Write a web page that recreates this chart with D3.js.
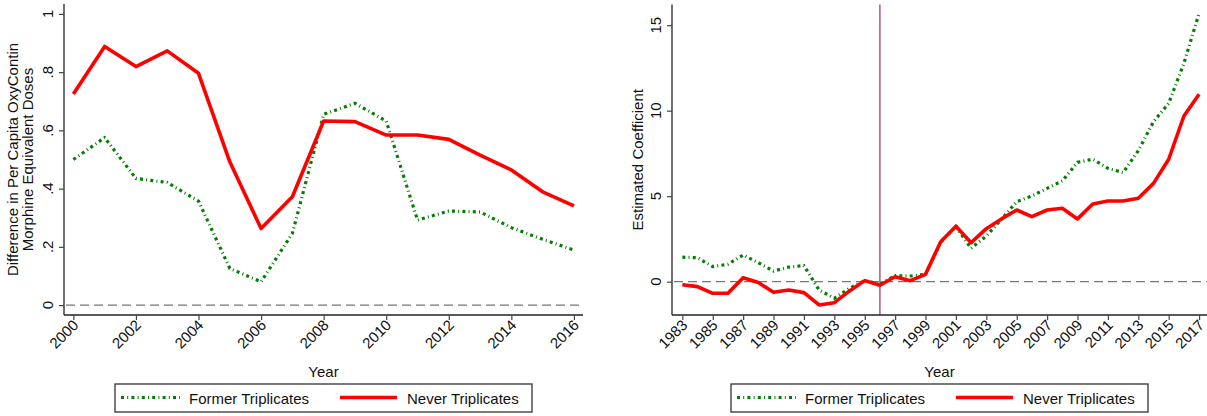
<!DOCTYPE html>
<html>
<head>
<meta charset="utf-8">
<script src="https://cdn.jsdelivr.net/npm/d3@7"></script>
<style>
  html, body { margin: 0; padding: 0; background: #fff; }
  svg { display: block; font-family: "Liberation Sans", Arial, Helvetica, sans-serif; }
</style>
</head>
<body>
<svg id="chart" width="1207" height="416"></svg>
<script>
// Panel A: per capita OxyContin difference, 2000-2016
const yearsA = [2000, 2001, 2002, 2003, 2004, 2005, 2006, 2007, 2008, 2009, 2010, 2011, 2012, 2013, 2014, 2015, 2016];
const formerA = [0.500, 0.575, 0.435, 0.421, 0.357, 0.126, 0.080, 0.246, 0.655, 0.693, 0.632, 0.292, 0.323, 0.320, 0.266, 0.226, 0.189];
const neverA  = [0.725, 0.888, 0.819, 0.873, 0.796, 0.492, 0.263, 0.372, 0.632, 0.630, 0.584, 0.584, 0.569, 0.515, 0.464, 0.389, 0.341];
const tickYearsA = [2000, 2002, 2004, 2006, 2008, 2010, 2012, 2014, 2016];
const tickValsA = [0, 0.2, 0.4, 0.6, 0.8, 1];
const tickLabelsA = ["0", ".2", ".4", ".6", ".8", "1"];

// Panel B: estimated coefficients, 1983-2017
const yearsB = [1983, 1984, 1985, 1986, 1987, 1988, 1989, 1990, 1991, 1992, 1993, 1994, 1995, 1996, 1997, 1998, 1999,
                2000, 2001, 2002, 2003, 2004, 2005, 2006, 2007, 2008, 2009, 2010, 2011, 2012, 2013, 2014, 2015, 2016, 2017];
const formerB = [1.43, 1.40, 0.88, 1.02, 1.56, 1.11, 0.62, 0.85, 0.94, -0.49, -0.97, -0.39, 0.06, -0.13, 0.35, 0.33, 0.43,
                 2.30, 3.22, 1.95, 2.67, 3.65, 4.68, 5.01, 5.46, 5.89, 6.98, 7.16, 6.63, 6.38, 7.66, 9.36, 10.43, 12.77, 15.70];
const neverB  = [-0.18, -0.29, -0.68, -0.68, 0.23, -0.05, -0.62, -0.49, -0.64, -1.36, -1.23, -0.54, 0.06, -0.21, 0.29, 0.06, 0.43,
                 2.34, 3.24, 2.28, 3.10, 3.67, 4.19, 3.80, 4.19, 4.29, 3.67, 4.54, 4.72, 4.72, 4.88, 5.75, 7.16, 9.69, 10.96];
const tickYearsB = [1983, 1985, 1987, 1989, 1991, 1993, 1995, 1997, 1999, 2001, 2003, 2005, 2007, 2009, 2011, 2013, 2015, 2017];
const tickValsB = [0, 5, 10, 15];
const tickLabelsB = ["0", "5", "10", "15"];
const eventYear = 1996;

const seriesNames = ["Former Triplicates", "Never Triplicates"];

const GREEN = "#008000";
const RED = "#ff0000";
const svg = d3.select("#chart");

function drawPanel(cfg) {
  const g = svg.append("g");
  const x = d3.scaleLinear().domain(cfg.xDomain).range([cfg.left, cfg.right]);
  const y = d3.scaleLinear().domain(cfg.yDomain).range([cfg.bottom, cfg.top]);

  // zero reference line
  g.append("line")
    .attr("x1", cfg.left + 2).attr("x2", cfg.right)
    .attr("y1", y(0)).attr("y2", y(0))
    .attr("stroke", "#777").attr("stroke-width", 1.2)
    .attr("stroke-dasharray", "9,5");

  if (cfg.vline != null) {
    g.append("line")
      .attr("x1", x(cfg.vline)).attr("x2", x(cfg.vline))
      .attr("y1", cfg.top).attr("y2", cfg.bottom)
      .attr("stroke", "#a01840").attr("stroke-width", 1.1);
  }

  const line = (vals) => d3.line()
    .x((d, i) => x(cfg.years[i]))
    .y(d => y(d))(vals);

  g.append("path")
    .attr("d", line(cfg.former))
    .attr("fill", "none").attr("stroke", GREEN)
    .attr("stroke-width", 3.2)
    .attr("stroke-dasharray", "3,3.2,1,3.2");

  g.append("path")
    .attr("d", line(cfg.never))
    .attr("fill", "none").attr("stroke", RED)
    .attr("stroke-width", 3.6)
    .attr("stroke-linejoin", "round");

  // y axis
  const yAxis = g.append("g").attr("transform", `translate(${cfg.left},0)`)
    .call(d3.axisLeft(y).tickValues(cfg.yTicks).tickSize(5).tickFormat(() => ""));
  yAxis.select(".domain").attr("d", `M0,${cfg.top}V${cfg.bottom}`).attr("stroke", "#222").attr("stroke-width", 1.3);
  yAxis.selectAll(".tick line").attr("stroke", "#444").attr("stroke-width", 1.2);
  g.selectAll(".ylab").data(cfg.yTicks).enter().append("text")
    .attr("transform", (d) => `translate(${cfg.left - 11},${y(d)}) rotate(-90)`)
    .attr("text-anchor", "middle")
    .attr("font-size", 15).attr("fill", "#111")
    .text((d, i) => cfg.yLabels[i]);

  // x axis
  const xAxis = g.append("g").attr("transform", `translate(0,${cfg.bottom})`)
    .call(d3.axisBottom(x).tickValues(cfg.xTicks).tickSize(5).tickFormat(() => ""));
  xAxis.select(".domain").attr("d", `M${cfg.left},0H${cfg.right}`).attr("stroke", "#222").attr("stroke-width", 1.3);
  xAxis.selectAll(".tick line").attr("stroke", "#444").attr("stroke-width", 1.2);
  g.selectAll(".xlab").data(cfg.xTicks).enter().append("text")
    .attr("transform", d => `translate(${x(d) + 6},${cfg.bottom + 11}) rotate(-45)`)
    .attr("text-anchor", "end")
    .attr("font-size", 15).attr("fill", "#111")
    .text(d => d);

  const midX = (cfg.left + cfg.right) / 2;
  g.append("text")
    .attr("x", midX).attr("y", 377)
    .attr("text-anchor", "middle").attr("font-size", 15).attr("fill", "#111")
    .text("Year");

  // y title
  const midY = (cfg.top + cfg.bottom) / 2;
  cfg.yTitle.forEach((t, i) => {
    g.append("text")
      .attr("transform", `translate(${cfg.yTitleX + i * 15},${midY}) rotate(-90)`)
      .attr("text-anchor", "middle").attr("font-size", 15).attr("fill", "#111")
      .text(t);
  });

  // legend
  const lw = 417, lh = 28;
  const lx = midX - lw / 2, ly = 384;
  const lg = g.append("g");
  lg.append("rect").attr("x", lx).attr("y", ly).attr("width", lw).attr("height", lh)
    .attr("fill", "#fff").attr("stroke", "#333").attr("stroke-width", 1.3);
  const sy = ly + 13.5;
  lg.append("line").attr("x1", lx + 6).attr("x2", lx + 65).attr("y1", sy).attr("y2", sy)
    .attr("stroke", GREEN).attr("stroke-width", 3.2).attr("stroke-dasharray", "3,3.2,1,3.2");
  lg.append("text").attr("x", lx + 74).attr("y", ly + 19.5).attr("font-size", 15).attr("fill", "#111")
    .text(seriesNames[0]);
  lg.append("line").attr("x1", lx + 225).attr("x2", lx + 282).attr("y1", sy).attr("y2", sy)
    .attr("stroke", RED).attr("stroke-width", 3.6);
  lg.append("text").attr("x", lx + 292).attr("y", ly + 19.5).attr("font-size", 15).attr("fill", "#111")
    .text(seriesNames[1]);
}

drawPanel({
  left: 64, right: 583, top: 4, bottom: 315,
  xDomain: [1999.70, 2016.29], yDomain: [-0.034, 1.034],
  years: yearsA, former: formerA, never: neverA,
  xTicks: tickYearsA, yTicks: tickValsA, yLabels: tickLabelsA,
  yTitle: ["Difference in Per Capita OxyContin", "Morphine Equivalent Doses"], yTitleX: 18,
  vline: null
});

drawPanel({
  left: 672, right: 1207, top: 4.5, bottom: 315,
  xDomain: [1982.32, 2017.52], yDomain: [-1.95, 16.21],
  years: yearsB, former: formerB, never: neverB,
  xTicks: tickYearsB, yTicks: tickValsB, yLabels: tickLabelsB,
  yTitle: ["Estimated Coefficient"], yTitleX: 643,
  vline: eventYear
});
</script>
</body>
</html>
